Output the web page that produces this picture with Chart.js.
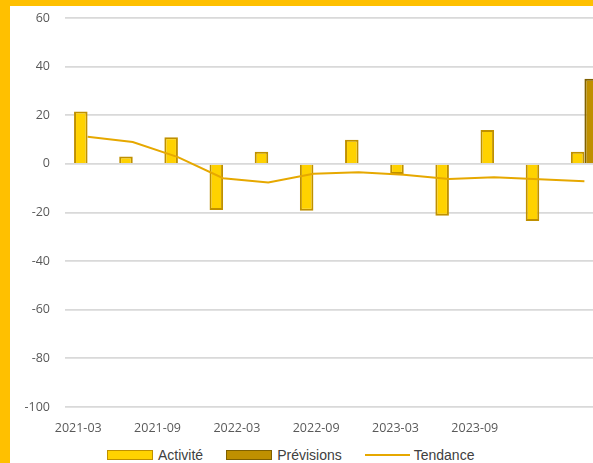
<!DOCTYPE html>
<html>
<head>
<meta charset="utf-8">
<script src="https://cdn.jsdelivr.net/npm/chart.js@4"></script>
<style>
  html, body { margin: 0; padding: 0; overflow: hidden; background: #fff; }
  body { width: 593px; height: 463px; position: relative; }
  .frame { position: absolute; left: 0; top: 0; width: 593px; height: 463px;
           border-left: 10px solid #FFC000; border-top: 6px solid #FFC000; box-sizing: border-box; }
  .wrap { position: absolute; left: 10px; top: 6px; width: 602px; height: 440px; }
  #legend { position: absolute; left: 107px; top: 446px; height: 18px; display: flex; align-items: center;
            font-family: "Liberation Sans", Arial, sans-serif; font-size: 14px; color: #404040; white-space: nowrap; }
  #legend .item { display: flex; align-items: center; margin-right: 23px; }
  #legend .sw { width: 46px; height: 10px; box-sizing: border-box; margin-right: 5px; }
  #legend .ln { width: 45px; height: 2px; margin-right: 4px; }
</style>
</head>
<body>
<div class="frame"></div>
<div class="wrap"><canvas id="myChart"></canvas></div>
<div id="legend"></div>
<script>
// trimestres
const quarters = ["2021-03", "2021-06", "2021-09", "2021-12", "2022-03", "2022-06",
  "2022-09", "2022-12", "2023-03", "2023-06", "2023-09", "2023-12"]
const activite = [21.5, 3, 11, -19, 5, -19.3, 9.9, -4.2, -21.3, 13.9, -23.5, 5]
const previsions = [null, null, null, null, null, null, null, null, null, null, null, 35]
const tendance = [11.2, 9, 2.8, -5.9, -7.7, -4.1, -3.4, -4.5, -6.2, -5.5, -6.3, -7.1]

// étiquettes de l'axe (mois depuis 2021-03)
const tickLabels = ["2021-03", "2021-09", "2022-03", "2022-09", "2023-03", "2023-09"]
const tickMonths = [0, 6, 12, 18, 24, 30]

const ctx = document.getElementById("myChart")

const chart = new Chart(ctx, {
  data: {
    labels: quarters,
    datasets: [
      {
        type: "bar",
        label: "Activité",
        data: activite,
        backgroundColor: "#FFD200",
        borderColor: "#BF9000",
        borderWidth: 2,
        barPercentage: 1,
        categoryPercentage: 0.6,
        order: 2,
      },
      {
        type: "bar",
        label: "Prévisions",
        data: previsions,
        backgroundColor: "#BF9000",
        borderColor: "#7F6000",
        borderWidth: 2,
        barPercentage: 1,
        categoryPercentage: 0.6,
        order: 2,
      },
      {
        type: "line",
        label: "Tendance",
        data: tendance,
        borderColor: "#E6A800",
        backgroundColor: "#E6A800",
        borderWidth: 2,
        pointRadius: 0,
        tension: 0,
        order: 1,
      },
    ],
  },
  options: {
    responsive: true,
    maintainAspectRatio: false,
    animation: false,
    layout: { padding: { left: 0, right: 5, top: 12, bottom: 9 } },
    plugins: {
      tooltip: { enabled: false },
      legend: { display: false },
    },
    scales: {
      x: {
        type: "category",
        display: false,
      },
      xm: {
        type: "linear",
        position: "bottom",
        min: -1,
        max: 40,
        grid: { display: false, drawTicks: false },
        border: { display: false },
        afterBuildTicks: (scale) => {
          scale.ticks = tickMonths.map((v) => ({ value: v }))
        },
        afterFit: (scale) => {
          scale.height = 30
        },
        ticks: {
          autoSkip: false,
          maxRotation: 0,
          padding: 13.5,
          color: "#595959",
          font: { family: "'Open Sans'", size: 12.5 },
          callback: (v) => {
            let i = tickMonths.indexOf(v)
            return i >= 0 ? tickLabels[i] : ""
          },
        },
      },
      y: {
        min: -100,
        max: 60,
        afterFit: (scale) => {
          scale.width = 55
          scale.paddingTop = 6
          scale.paddingBottom = 6
        },
        grid: { color: "#D9D9D9", lineWidth: 1.8, drawTicks: false },
        border: { display: false },
        ticks: {
          stepSize: 20,
          padding: 15,
          color: "#595959",
          font: { family: "'Open Sans'", size: 12.5 },
        },
      },
    },
  },
})

// légende en HTML
const lg = document.getElementById("legend")
chart.data.datasets.forEach((ds) => {
  let item = document.createElement("div")
  item.className = "item"
  let sw = document.createElement("span")
  if (ds.type === "line") {
    sw.className = "ln"
    sw.style.background = ds.borderColor
  } else {
    sw.className = "sw"
    sw.style.background = ds.backgroundColor
    sw.style.border = "1.5px solid " + ds.borderColor
  }
  let tx = document.createElement("span")
  tx.textContent = ds.label
  item.appendChild(sw)
  item.appendChild(tx)
  lg.appendChild(item)
})
</script>
</body>
</html>
